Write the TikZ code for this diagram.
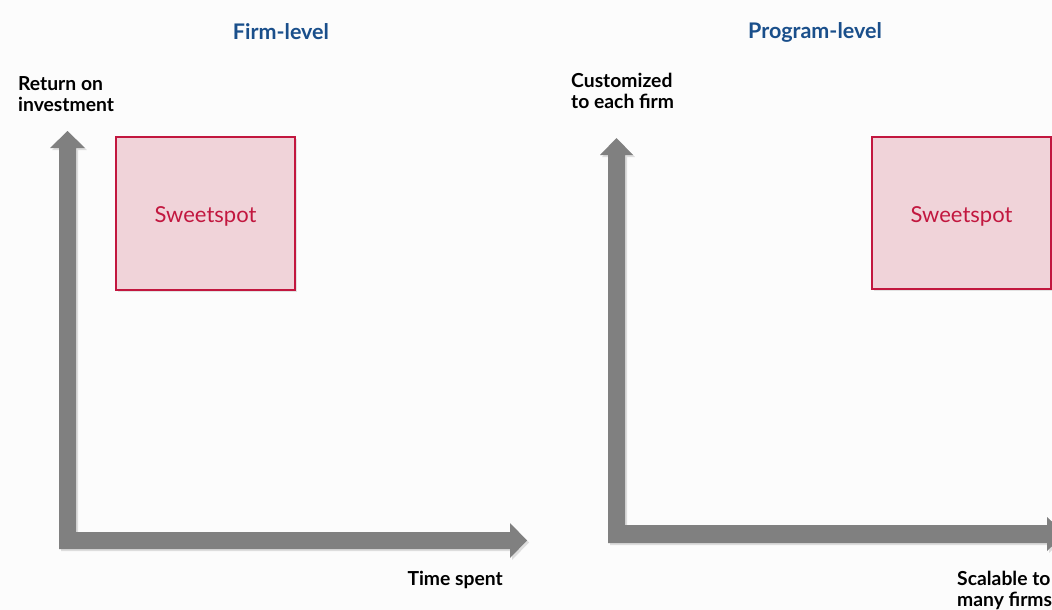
\documentclass[tikz,border=0pt]{standalone}
\usepackage{fontspec}
\setmainfont{Lato}
\definecolor{bgc}{HTML}{FCFCFC}
\definecolor{axisgray}{HTML}{808080}
\definecolor{titleblue}{HTML}{1A4F8B}
\definecolor{spotred}{HTML}{C2173F}
\definecolor{spotfill}{HTML}{F0D3D9}
\tikzset{
  axislabel/.style={font=\bfseries\fontsize{19.3}{21}\selectfont, text=black, inner sep=0pt, align=left},
  paneltitle/.style={font=\bfseries\fontsize{21.5}{24}\selectfont, text=titleblue, inner sep=0pt},
  spotbox/.style={draw=spotred, line width=1.2pt, fill=spotfill, inner sep=0pt},
  spottext/.style={text=spotred, inner sep=0pt, font=\fontsize{22}{25}\selectfont, yshift=-3pt},
  axisfill/.style={fill=axisgray},
  shadowfill/.style={fill=black, opacity=0.12}
}
\begin{document}
\begin{tikzpicture}[x=1pt,y=-1pt]
\useasboundingbox (0,0) rectangle (1052,610);
\fill[bgc] (0,0) rectangle (1052,610);
\begin{scope}
\clip (0,0) rectangle (1052,610);
% ---------- left panel axes ----------
\fill[shadowfill] (61,150) -- (52,150) -- (69.5,133) -- (87,150) -- (78,150) -- (78,534) -- (512,534) -- (512,525) -- (529,542.5) -- (512,560) -- (512,551) -- (61,551) -- cycle;
\fill[axisfill] (59,148) -- (50,148) -- (67.5,131) -- (85,148) -- (76,148) -- (76,532) -- (510,532) -- (510,523) -- (527,540.5) -- (510,558) -- (510,549) -- (59,549) -- cycle;
% ---------- right panel axes ----------
\fill[shadowfill] (610,157) -- (602,157) -- (618.5,140) -- (635,157) -- (627,157) -- (627,527) -- (1049,527) -- (1049,519) -- (1067,536) -- (1049,553) -- (1049,545) -- (610,545) -- cycle;
\fill[axisfill] (608,155) -- (600,155) -- (616.5,138) -- (633,155) -- (625,155) -- (625,525) -- (1047,525) -- (1047,517) -- (1065,534) -- (1047,551) -- (1047,543) -- (608,543) -- cycle;
% ---------- sweetspot boxes ----------
\fill[black, opacity=0.10] (118,139) rectangle (297,292);
\node[spotbox, minimum width=179pt, minimum height=153pt] (spotL) at (205.5,213.5) {};
\node[spottext] (spotLtext) at (spotL.center) {Sweetspot};
\fill[black, opacity=0.10] (874,139) rectangle (1053,291);
\node[spotbox, minimum width=179pt, minimum height=152pt] (spotR) at (961.5,213) {};
\node[spottext] (spotRtext) at (spotR.center) {Sweetspot};
\end{scope}
% ---------- titles ----------
\node[paneltitle] (titleL) at (281,32) {Firm-level};
\node[paneltitle] (titleR) at (815,32) {Program-level};
% ---------- axis labels ----------
\node[axislabel, anchor=north west] (ylabL) at (18,76) {Return on\\investment};
\node[axislabel, anchor=east] (xlabL) at (503,580) {Time spent};
\node[axislabel, anchor=north west] (ylabR) at (571,73) {Customized\\to each firm};
\node[axislabel, anchor=north west] (xlabR) at (957,571) {Scalable to\\many firms};
\end{tikzpicture}
\end{document}
